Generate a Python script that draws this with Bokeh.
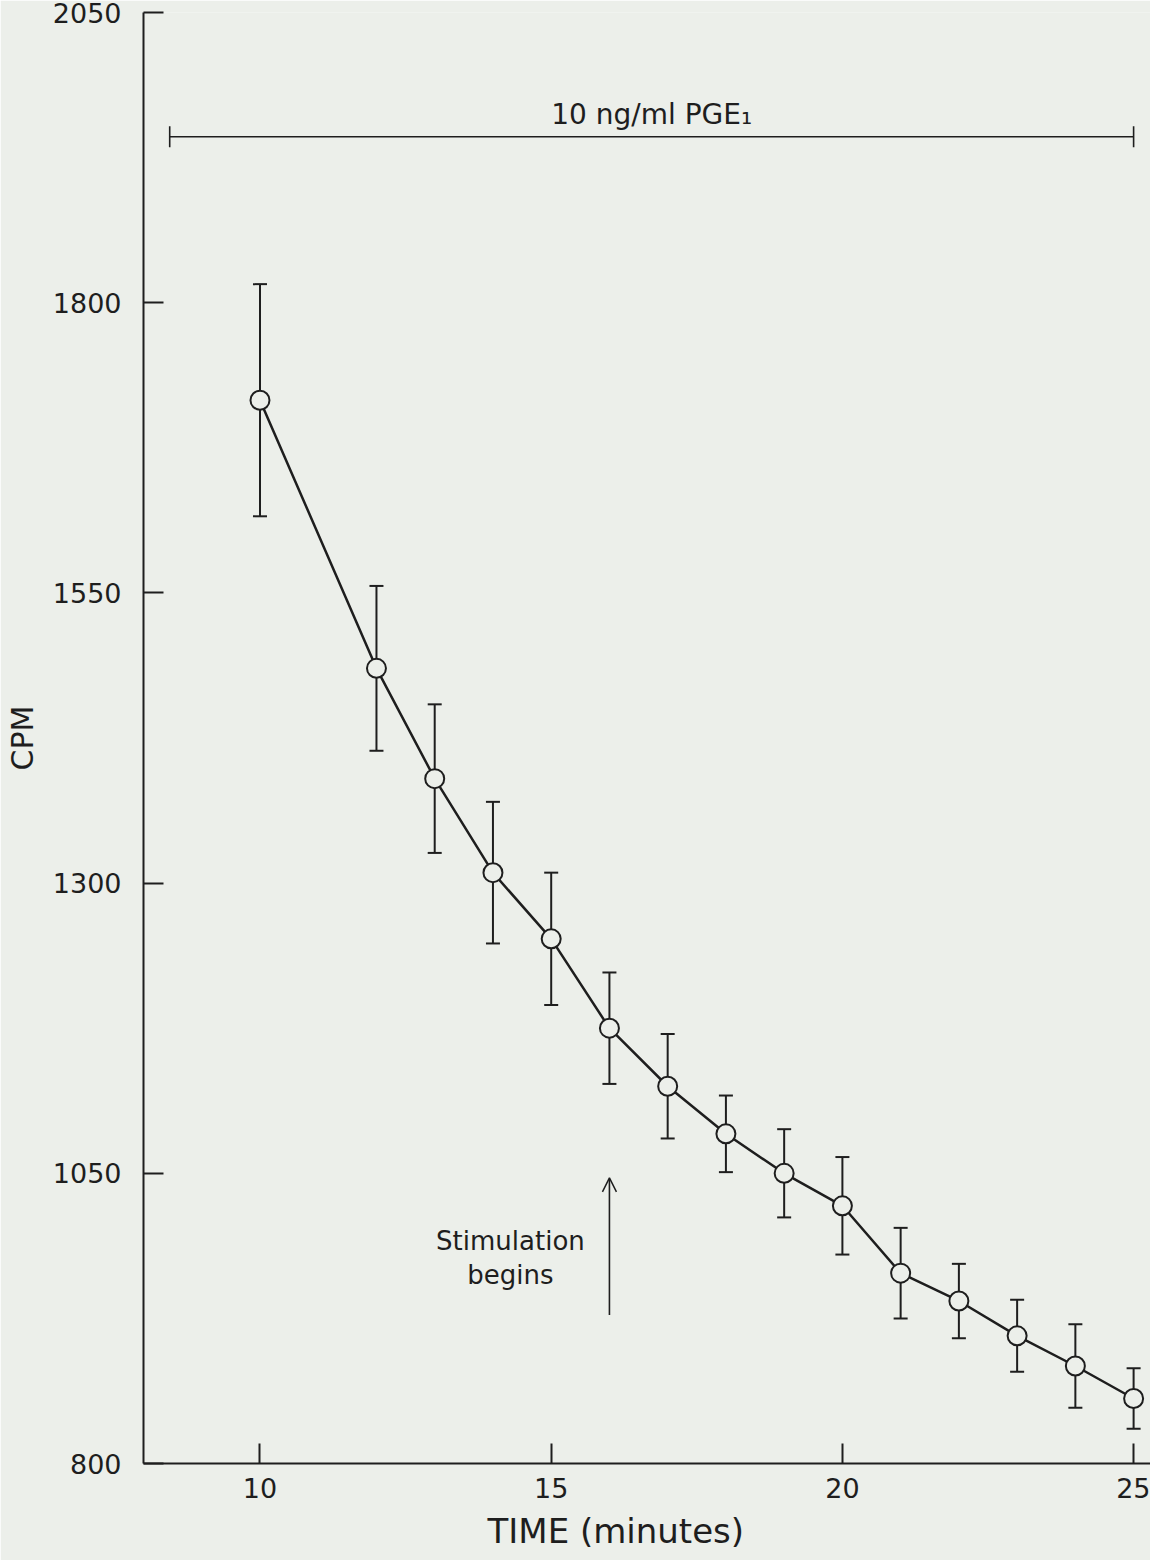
from bokeh.plotting import figure
from bokeh.models import Range1d, FixedTicker, Arrow, OpenHead, Title
from bokeh.core.properties import value
from bokeh.embed import file_html
from bokeh.resources import INLINE

# ---- data ----
times = [10, 12, 13, 14, 15, 16, 17, 18, 19, 20, 21, 22, 23, 24, 25]
cpm = [1716, 1485, 1390, 1309, 1252, 1175, 1125, 1084, 1050, 1022, 964, 940, 910, 884, 856]
sem = [100, 71, 64, 61, 57, 48, 45, 33, 38, 42, 39, 32, 31, 36, 26]

x_ticks = [10, 15, 20, 25]
y_ticks = [800, 1050, 1300, 1550, 1800, 2050]

treatment_label = "10 ng/ml PGE\u2081"
treatment_start = 8.45
treatment_end = 25.0
treatment_level = 1943

stim_time = 16
stim_arrow_from = 928
stim_arrow_to = 1046
stim_text = ["Stimulation", "begins"]

x_title = "TIME (minutes)"
y_title = "CPM"

# ---- styles ----
BG = "#ecefea"
INK = "#1e1e1e"
FONT = "DejaVu Sans"

p = figure(width=1150, height=1560, output_backend="svg", toolbar_location=None,
           x_range=Range1d(8.0, 25.29), y_range=Range1d(800, 2050),
           min_border_left=143, min_border_right=0, min_border_top=12, min_border_bottom=97)
p.background_fill_color = BG
p.border_fill_color = BG
p.outline_line_color = None
p.xgrid.visible = False
p.ygrid.visible = False

for ax in (p.xaxis[0], p.yaxis[0]):
    ax.axis_line_width = 2
    ax.axis_line_color = INK
    ax.major_tick_line_width = 2
    ax.major_tick_line_color = INK
    ax.major_tick_in = 20
    ax.major_tick_out = 0
    ax.minor_tick_in = 0
    ax.minor_tick_out = 0
    ax.major_label_text_font = FONT
    ax.major_label_text_font_size = "27px"
    ax.major_label_text_color = INK

p.xaxis.ticker = FixedTicker(ticks=x_ticks)
p.yaxis.ticker = FixedTicker(ticks=y_ticks)
p.xaxis.major_label_standoff = 14
p.yaxis.major_label_standoff = 22

p.yaxis.axis_label = y_title
p.yaxis.axis_label_text_font = FONT
p.yaxis.axis_label_text_font_size = "30px"
p.yaxis.axis_label_text_font_style = "normal"
p.yaxis.axis_label_text_color = INK
p.yaxis.axis_label_standoff = 10

p.add_layout(Title(text=x_title, align="left", offset=344, standoff=16,
                   text_font=FONT, text_font_size="34px", text_font_style="normal",
                   text_color=INK), "below")

# treatment bracket
half_cap = 9
p.segment(x0=[treatment_start], y0=[treatment_level], x1=[treatment_end], y1=[treatment_level],
          line_color=INK, line_width=1.6)
p.segment(x0=[treatment_start, treatment_end], y0=[treatment_level - half_cap] * 2,
          x1=[treatment_start, treatment_end], y1=[treatment_level + half_cap] * 2,
          line_color=INK, line_width=1.6)
p.text(x=[(treatment_start + treatment_end) / 2], y=[treatment_level + 19], text=[treatment_label],
       text_font=value(FONT), text_font_size="28px", text_color=INK,
       text_align="center", text_baseline="middle")

# data line, error bars, open circles
p.line(times, cpm, line_color=INK, line_width=2.5)
upper = [c + s for c, s in zip(cpm, sem)]
lower = [c - s for c, s in zip(cpm, sem)]
p.segment(x0=times, y0=lower, x1=times, y1=upper, line_color=INK, line_width=2)
p.scatter(times + times, upper + lower, marker="dash", size=14, line_color=INK, line_width=2)
p.scatter(times, cpm, marker="circle", size=19, fill_color=BG, line_color=INK, line_width=2)

# stimulation arrow and text
p.add_layout(Arrow(end=OpenHead(size=14, line_width=1.5, line_color=INK),
                   x_start=stim_time, y_start=stim_arrow_from, x_end=stim_time, y_end=stim_arrow_to,
                   line_width=1.6, line_color=INK))
p.text(x=[stim_time - 1.7, stim_time - 1.7], y=[992, 962], text=stim_text,
       text_font=value(FONT), text_font_size="26px", text_color=INK,
       text_align="center", text_baseline="middle")

open("out.html", "w").write(file_html(p, INLINE))
